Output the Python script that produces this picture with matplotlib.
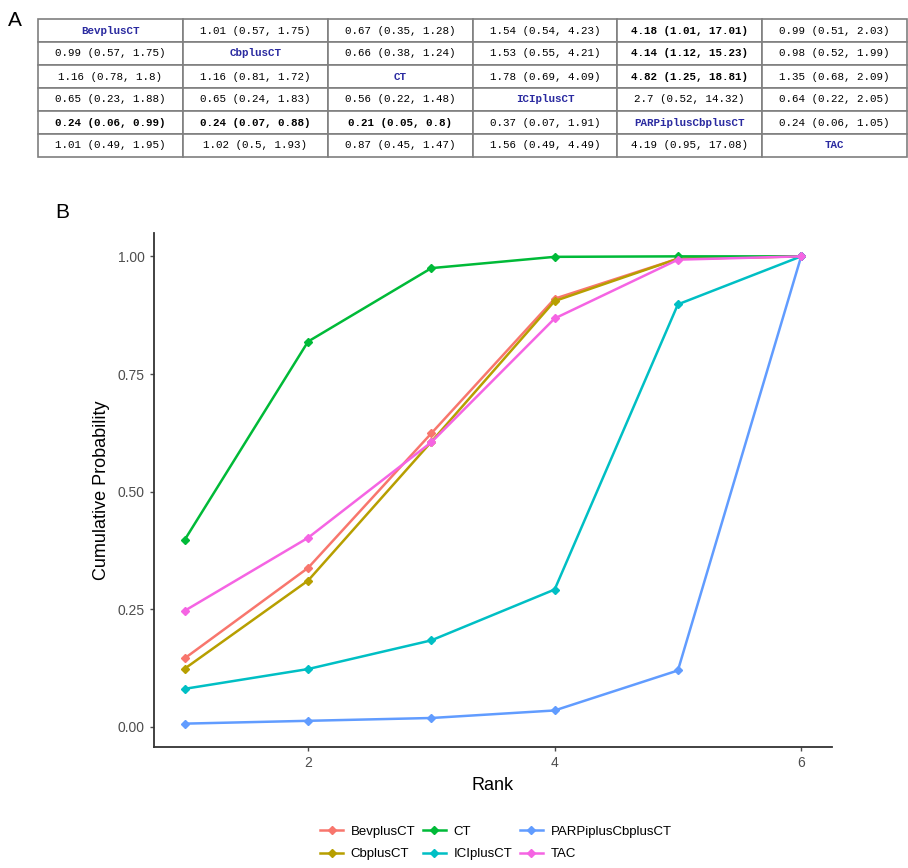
import re
import matplotlib
matplotlib.use("Agg")
import matplotlib.pyplot as plt

# league table (upper/lower triangles), diagonal = treatment names
league_rows = [
    ["BevplusCT", "1.01 (0.57, 1.75)", "0.67 (0.35, 1.28)", "1.54 (0.54, 4.23)", "4.18 (1.01, 17.01)", "0.99 (0.51, 2.03)"],
    ["0.99 (0.57, 1.75)", "CbplusCT", "0.66 (0.38, 1.24)", "1.53 (0.55, 4.21)", "4.14 (1.12, 15.23)", "0.98 (0.52, 1.99)"],
    ["1.16 (0.78, 1.8)", "1.16 (0.81, 1.72)", "CT", "1.78 (0.69, 4.09)", "4.82 (1.25, 18.81)", "1.35 (0.68, 2.09)"],
    ["0.65 (0.23, 1.88)", "0.65 (0.24, 1.83)", "0.56 (0.22, 1.48)", "ICIplusCT", "2.7 (0.52, 14.32)", "0.64 (0.22, 2.05)"],
    ["0.24 (0.06, 0.99)", "0.24 (0.07, 0.88)", "0.21 (0.05, 0.8)", "0.37 (0.07, 1.91)", "PARPiplusCbplusCT", "0.24 (0.06, 1.05)"],
    ["1.01 (0.49, 1.95)", "1.02 (0.5, 1.93)", "0.87 (0.45, 1.47)", "1.56 (0.49, 4.49)", "4.19 (0.95, 17.08)", "TAC"],
]

# cumulative ranking probabilities
treatments = ["BevplusCT", "CbplusCT", "CT", "ICIplusCT", "PARPiplusCbplusCT", "TAC"]
ranks = [1, 2, 3, 4, 5, 6]
bev = [0.146, 0.338, 0.624, 0.910, 0.995, 1.0]
cb = [0.124, 0.311, 0.606, 0.905, 0.995, 1.0]
ct = [0.398, 0.819, 0.975, 0.999, 1.0, 1.0]
ici = [0.081, 0.123, 0.184, 0.292, 0.898, 1.0]
parp = [0.007, 0.013, 0.019, 0.035, 0.120, 1.0]
tac = [0.247, 0.402, 0.605, 0.868, 0.993, 1.0]
colors = ["#F8766D", "#B79F00", "#00BA38", "#00BFC4", "#619CFF", "#F564E3"]

fig = plt.figure(figsize=(9.08, 8.68), dpi=100)

# ---- panel A: table ----
tax = fig.add_axes([38/908, (868-157)/868, (907-38)/908, 138/868])
tax.axis("off")
tbl = tax.table(cellText=league_rows, cellLoc="center", bbox=[0, 0, 1, 1])
tbl.auto_set_font_size(False)
for (r, c), cell in tbl.get_celld().items():
    cell.set_edgecolor("#7f7f7f")
    cell.set_linewidth(1.2)
    txt = cell.get_text()
    txt.set_fontfamily("Liberation Mono")
    txt.set_fontsize(7.8)
    s = league_rows[r][c]
    if r == c:
        txt.set_color("#2a2aa0")
        txt.set_fontweight("bold")
    else:
        est, lo, hi = [float(v) for v in re.findall(r"[\d.]+", s)]
        if lo > 1 or hi < 1:
            txt.set_fontweight("bold")

fig.text(8/908, 1 - 20/868, "A", fontsize=15, family="Liberation Sans", va="center")
fig.text(55/908, 1 - 213/868, "B", fontsize=15, family="Liberation Sans", va="center")

# ---- panel B: cumulative ranking curves ----
ax = fig.add_axes([154/908, (868-747)/868, (832-154)/908, (747-233)/868])
for name, vals, col in zip(treatments, [bev, cb, ct, ici, parp, tac], colors):
    ax.plot(ranks, vals, color=col, lw=1.8, marker="D", ms=4, label=name)

ax.set_xticks([2, 4, 6])
ax.set_yticks([0, 0.25, 0.5, 0.75, 1.0])
ax.set_yticklabels(["0.00", "0.25", "0.50", "0.75", "1.00"])
for s in ["top", "right"]:
    ax.spines[s].set_visible(False)
for s in ["left", "bottom"]:
    ax.spines[s].set_color("#333333")
    ax.spines[s].set_linewidth(1.3)
ax.tick_params(colors="#4d4d4d", labelsize=10, length=3, width=1)
for lab in ax.get_xticklabels() + ax.get_yticklabels():
    lab.set_family("Liberation Sans")
ax.set_xlabel("Rank", fontsize=13, family="Liberation Sans", labelpad=5)
ax.set_ylabel("Cumulative Probability", fontsize=13, family="Liberation Sans", labelpad=6)

leg = fig.legend(loc="center", bbox_to_anchor=(496/908, 1 - 843/868), ncol=3,
                 frameon=False, handlelength=1.7, handletextpad=0.6,
                 columnspacing=0.6, labelspacing=0.75,
                 prop={"family": "Liberation Sans", "size": 9.5})

fig.savefig("out.png", dpi=100, facecolor="white")
